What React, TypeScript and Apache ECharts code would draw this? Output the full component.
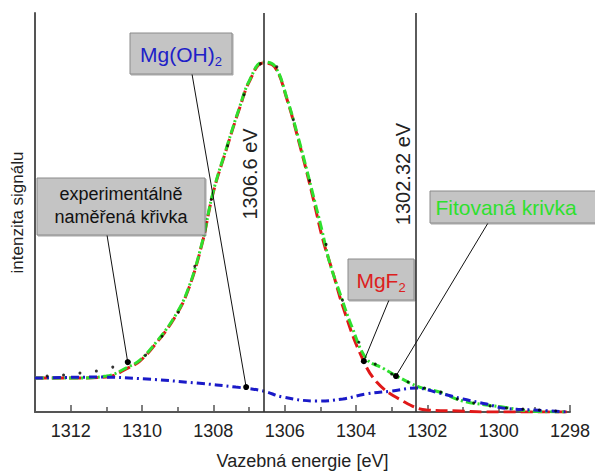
import React, { useEffect, useRef } from "react";
import * as echarts from "echarts";

// Binding energy axis (eV), inverted
const xMin = 1298;
const xMax = 1313;

// Fitted curve (green)
const fitE = [1313, 1312, 1311, 1310.4, 1310.06, 1309.58, 1309.13, 1308.74, 1308.32, 1308.01, 1307.62, 1307.26, 1306.98, 1306.61, 1306.28, 1305.94, 1305.58, 1305.24, 1304.96, 1304.74, 1304.46, 1304.12, 1303.7, 1303.25, 1302.86, 1302.22, 1301.66, 1301.01, 1300.34, 1299.89, 1299.13, 1298.1];
const fitV = [34, 34, 36, 45, 52, 71, 93, 120, 169, 220, 266, 306, 333, 351, 347, 315, 270, 223, 183, 150, 120, 86, 53, 44, 36, 25, 20, 11, 7, 5, 1, 0];

// MgF2 component (red)
const mgf2E = [1313, 1312, 1311, 1310.4, 1310.06, 1309.58, 1309.13, 1308.74, 1308.32, 1308.01, 1307.62, 1307.26, 1306.98, 1306.61, 1306.28, 1305.94, 1305.58, 1305.24, 1304.93, 1304.65, 1304.37, 1303.9, 1303.42, 1302.69, 1302.02, 1301.1, 1300.34, 1298];
const mgf2V = [34, 34, 35, 44, 51, 70, 92, 119, 168, 219, 265, 305, 332, 350, 346, 314, 268, 220, 173, 140, 106, 60, 30, 11, 2, 1, 0, 0];

// Mg(OH)2 component (blue)
const mgohE = [1313, 1311.23, 1309.86, 1308.46, 1307.37, 1306.6, 1306.06, 1305.1, 1304.37, 1303.73, 1303.0, 1302.3, 1301.66, 1301.0, 1300.34, 1299.89, 1299.0, 1298.1];
const mgohV = [34, 35, 33, 29, 25, 21, 15, 11, 13, 18, 21, 24, 19, 13, 8, 4, 2, 0];

// Experimental points (black)
const expE = [1312.66, 1312.2, 1311.74, 1311.28, 1310.82, 1310.36, 1309.9, 1309.44, 1308.98, 1308.52, 1308.06, 1307.6, 1307.14, 1306.68, 1306.22, 1305.76, 1305.3, 1304.84, 1304.38, 1303.92, 1303.46, 1303.0, 1302.54, 1302.08, 1301.62, 1301.16, 1300.7, 1300.24, 1299.78, 1299.32, 1298.86, 1298.4];
const expV = [36, 37, 39, 41, 45, 50, 57, 76, 100, 146, 213, 267, 318, 349, 346, 293, 232, 168, 112, 70, 48, 38, 30, 24, 20, 13, 9, 6, 4, 3, 2, 1];

// Reference energies (vertical lines)
const refLines = [1306.6, 1302.32];
const refLabels = ["1306.6 eV", "1302.32 eV"];

// Annotation targets (data coordinates)
const annExp: [number, number] = [1310.4, 50];
const annMgOH: [number, number] = [1307.08, 25];
const annMgF2: [number, number] = [1303.78, 51];
const annFit: [number, number] = [1302.88, 36];

const FONT = "'Liberation Sans', Arial, Helvetica, sans-serif";

const zip = (a: number[], b: number[]) => a.map((v, i) => [v, b[i]]);

export default function App() {
  const ref = useRef<HTMLDivElement>(null);

  useEffect(() => {
    if (!ref.current) return;
    const chart = echarts.init(ref.current, undefined, { renderer: "svg" });
    const option: any = {
      animation: false,
      backgroundColor: "#ffffff",
      grid: { left: 35, right: 25, top: 13, bottom: 62 },
      xAxis: {
        type: "value",
        inverse: true,
        min: xMin,
        max: xMax,
        interval: 2,
        name: "Vazebná energie [eV]",
        nameLocation: "middle",
        nameGap: 40,
        nameTextStyle: { fontFamily: FONT, fontSize: 18, color: "#222" },
        axisLine: { show: true, onZero: false, lineStyle: { color: "#555", width: 2 } },
        axisTick: { show: true, inside: true, length: 7, lineStyle: { color: "#555", width: 1.5 } },
        minorTick: { show: true, splitNumber: 2, length: 5, lineStyle: { color: "#555", width: 1.5 } },
        axisLabel: {
          margin: 10,
          fontFamily: FONT,
          fontSize: 18,
          color: "#222",
          formatter: (v: number) => (v % 2 === 0 && v <= 1312 ? String(v) : ""),
        },
        splitLine: { show: false },
      },
      yAxis: {
        type: "value",
        min: 0,
        max: 400,
        name: "intenzita signálu",
        nameLocation: "middle",
        nameGap: 9,
        nameTextStyle: { fontFamily: FONT, fontSize: 17, color: "#222" },
        axisLine: { show: true, lineStyle: { color: "#555", width: 2 } },
        axisTick: { show: false },
        axisLabel: { show: false },
        splitLine: { show: false },
      },
      series: [
        {
          name: "MgF2",
          type: "line",
          data: zip(mgf2E, mgf2V),
          smooth: 0.4,
          symbol: "none",
          lineStyle: { color: "#e01818", width: 3, type: [12, 5] },
          z: 2,
          markLine: {
            silent: true,
            symbol: ["none", "none"],
            label: { show: false },
            lineStyle: { color: "#333", width: 1.6, type: "solid" },
            data: refLines.map((x) => ({ xAxis: x })),
          },
        },
        {
          name: "Fit",
          type: "line",
          data: zip(fitE, fitV),
          smooth: 0.4,
          symbol: "none",
          lineStyle: { color: "#2ee02e", width: 3, type: [9, 3, 2, 3] },
          z: 3,
        },
        {
          name: "Mg(OH)2",
          type: "line",
          data: zip(mgohE, mgohV),
          smooth: 0.4,
          symbol: "none",
          lineStyle: { color: "#1a1ac8", width: 3, type: [8, 4, 2, 4] },
          z: 4,
        },
        {
          name: "exp",
          type: "scatter",
          data: zip(expE, expV),
          symbolSize: 3,
          itemStyle: { color: "#000" },
          z: 5,
        },
      ],
    };
    chart.setOption(option);

    const px = (p: [number, number]) => chart.convertToPixel({ gridIndex: 0 }, p) as number[];
    const box = (x: number, y: number, w: number, h: number) => ({
      type: "rect",
      shape: { x, y, width: w, height: h },
      style: {
        fill: "#c4c4c4",
        stroke: "#8a8a8a",
        lineWidth: 1,
        shadowColor: "rgba(0,0,0,0.35)",
        shadowOffsetX: 1,
        shadowOffsetY: 1,
        shadowBlur: 1,
      },
      z: 20,
    });
    const leader = (from: number[], to: [number, number]) => {
      const t = px(to);
      return [
        {
          type: "line",
          shape: { x1: from[0], y1: from[1], x2: t[0], y2: t[1] },
          style: { stroke: "#111", lineWidth: 1 },
          z: 15,
        },
        {
          type: "circle",
          shape: { cx: t[0], cy: t[1], r: 3 },
          style: { fill: "#000" },
          z: 16,
        },
      ];
    };

    const refLabelEls = refLines.map((x, i) => {
      const p = px([x, 0]);
      return {
        type: "text",
        x: p[0] - 13,
        y: 174,
        rotation: Math.PI / 2,
        style: {
          text: refLabels[i],
          fontFamily: FONT,
          fontSize: 20,
          fill: "#222",
          align: "center",
          verticalAlign: "middle",
        },
        z: 20,
      };
    });

    chart.setOption({
      graphic: [
        ...leader([107, 235], annExp),
        ...leader([192, 74], annMgOH),
        ...leader([389, 300], annMgF2),
        ...leader([488, 223], annFit),
        ...refLabelEls,
        box(130, 33, 102, 41),
        {
          type: "text",
          x: 181,
          y: 54,
          style: {
            text: "{a|Mg(OH)}{s|2}",
            align: "center",
            verticalAlign: "middle",
            rich: {
              a: { fontFamily: FONT, fontSize: 21, fill: "#2020c8", lineHeight: 28 },
              s: { fontFamily: FONT, fontSize: 13, fill: "#2020c8", lineHeight: 13, verticalAlign: "bottom" },
            },
          },
          z: 21,
        },
        box(37, 178, 168, 57),
        {
          type: "text",
          x: 121,
          y: 205,
          style: {
            text: "experimentálně\nnaměřená křivka",
            fontFamily: FONT,
            fontSize: 18,
            lineHeight: 23,
            fill: "#111",
            align: "center",
            verticalAlign: "middle",
          },
          z: 21,
        },
        box(348, 259, 66, 41),
        {
          type: "text",
          x: 381,
          y: 280,
          style: {
            text: "{a|MgF}{s|2}",
            align: "center",
            verticalAlign: "middle",
            rich: {
              a: { fontFamily: FONT, fontSize: 21, fill: "#dd2020", lineHeight: 28 },
              s: { fontFamily: FONT, fontSize: 13, fill: "#dd2020", lineHeight: 13, verticalAlign: "bottom" },
            },
          },
          z: 21,
        },
        box(430, 191, 166, 32),
        {
          type: "text",
          x: 506,
          y: 207,
          style: {
            text: "Fitovaná krivka",
            fontFamily: FONT,
            fontSize: 21,
            fill: "#2ee02e",
            align: "center",
            verticalAlign: "middle",
          },
          z: 21,
        },
      ],
    });

    return () => chart.dispose();
  }, []);

  return (
    <div
      ref={ref}
      style={{ position: "fixed", left: 0, top: 0, width: 595, height: 475, background: "#fff" }}
    />
  );
}
